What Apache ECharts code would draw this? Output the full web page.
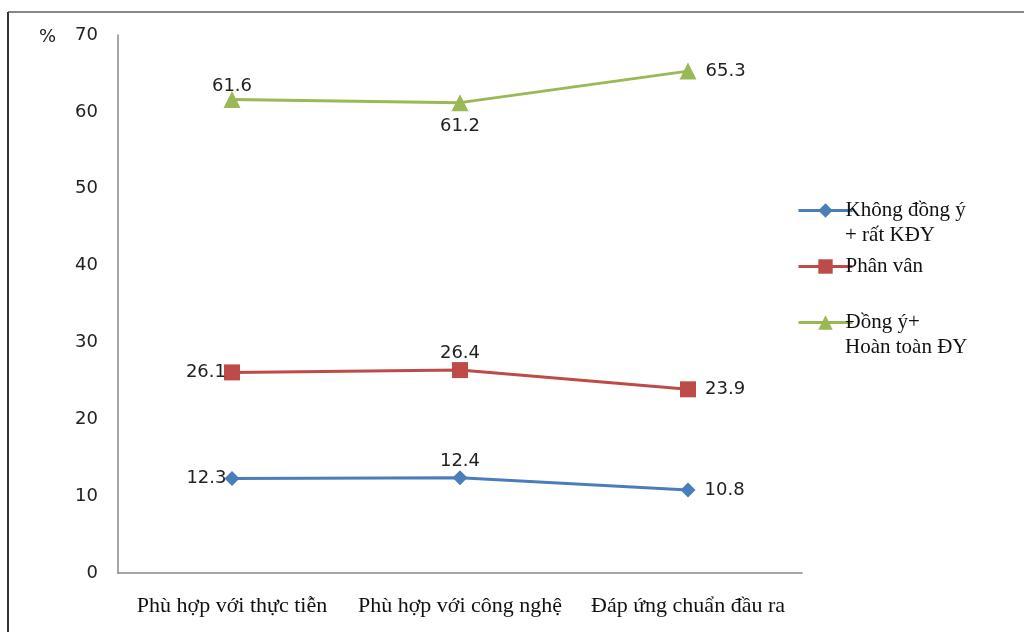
<!DOCTYPE html>
<html><head><meta charset="utf-8">
<script src="https://cdn.jsdelivr.net/npm/echarts@6/dist/echarts.min.js"></script>
<style>html,body{margin:0;padding:0;background:#fff}#c{width:1024px;height:632px}</style>
</head><body><div id="c"></div>
<script>
const categories = ['Phù hợp với thực tiễn', 'Phù hợp với công nghệ', 'Đáp ứng chuẩn đầu ra'];
const seriesNames = ['Không đồng ý + rất KĐY', 'Phân vân', 'Đồng ý+ Hoàn toàn ĐY'];
const legendFirst = ['Không đồng ý', 'Phân vân', 'Đồng ý+'];
const legendSecond = ['+ rất KĐY', '', 'Hoàn toàn ĐY'];
const khongDongY = [12.3, 12.4, 10.8];
const phanVan = [26.1, 26.4, 23.9];
const dongY = [61.6, 61.2, 65.3];
const yTicks = [0, 10, 20, 30, 40, 50, 60, 70];

const colors = ['#4A7EBB', '#BE4B48', '#98B954'];
const symbols = ['diamond', 'rect', 'triangle'];
const symbolSizes = [15, 16, 17];
const labelPos = [['left', 'top', 'right'], ['left', 'top', 'right'], ['top', 'bottom', 'right']];
const labelDist = [[-2, 0, 9], [-2, 0, 9], [-4, 6, 9]];
const values = [khongDongY, phanVan, dongY];
const legendTops = [200, 256, 312];

const chart = echarts.init(document.getElementById('c'));
const series = values.map((vals, i) => ({
  name: seriesNames[i],
  type: 'line',
  data: vals.map((v, j) => ({value: v, label: {position: labelPos[i][j], distance: labelDist[i][j]}})),
  symbol: symbols[i],
  symbolSize: symbolSizes[i],
  lineStyle: {width: 3, color: colors[i]},
  itemStyle: {color: colors[i]},
  label: {show: true, fontFamily: 'DejaVu Sans', fontSize: 18, color: '#222'},
  z: 3 - i
}));

const legends = seriesNames.map((n, i) => ({
  data: [n],
  orient: 'vertical',
  left: 797,
  top: legendTops[i],
  padding: 0,
  itemWidth: 54,
  itemHeight: 18,
  itemGap: 4,
  lineStyle: {width: 3},
  formatter: () => legendFirst[i],
  textStyle: {fontFamily: 'Liberation Serif', fontSize: 21, color: '#111', padding: [0, 0, 0, -12]}
}));

const graphics = [
  {type: 'line', shape: {x1: 8, y1: 12, x2: 1024, y2: 12}, style: {stroke: '#888', lineWidth: 2}},
  {type: 'line', shape: {x1: 8, y1: 12, x2: 8, y2: 632}, style: {stroke: '#333', lineWidth: 2}}
];
legendSecond.forEach((t, i) => {
  if (t) graphics.push({type: 'text', left: 845, top: legendTops[i] + 25,
    style: {text: t, font: '21px "Liberation Serif"', fill: '#111'}});
});

chart.setOption({
  animation: false,
  backgroundColor: '#fff',
  grid: {left: 118, right: 222, top: 35, bottom: 59, containLabel: false},
  legend: legends,
  graphic: graphics,
  xAxis: {
    type: 'category', data: categories, boundaryGap: true,
    axisLine: {lineStyle: {color: '#888', width: 1.5}},
    axisTick: {show: false},
    axisLabel: {interval: 0, fontFamily: 'Liberation Serif', fontSize: 22, color: '#111', margin: 22}
  },
  yAxis: {
    type: 'value', min: 0, max: 70, interval: 10,
    name: '%', nameLocation: 'end', nameGap: -2,
    nameTextStyle: {align: 'right', verticalAlign: 'middle', padding: [0, 62, 0, 0], fontFamily: 'DejaVu Sans', fontSize: 18, color: '#222'},
    axisLine: {show: true, lineStyle: {color: '#888', width: 1.5}},
    axisTick: {show: false},
    splitLine: {show: false},
    axisLabel: {fontFamily: 'DejaVu Sans', fontSize: 18, color: '#222', margin: 20,
      formatter: v => yTicks.includes(v) ? String(v) : ''}
  },
  series: series
});
</script></body></html>
